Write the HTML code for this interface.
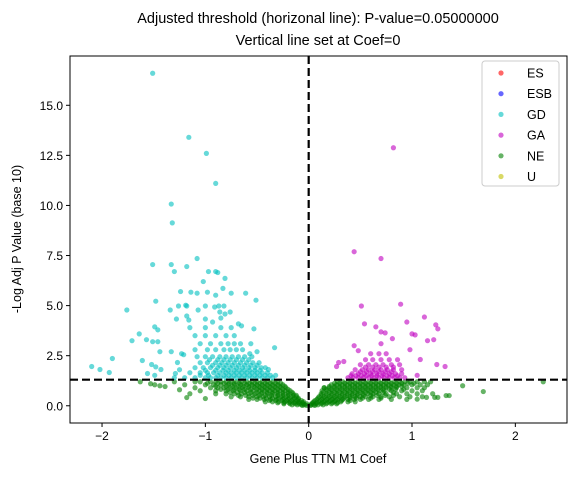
<!DOCTYPE html>
<html><head><meta charset="utf-8"><style>
body{margin:0;background:#fff}
svg text{font-family:"Liberation Sans","DejaVu Sans",sans-serif;fill:#000}
</style></head><body>
<svg id="chart" width="576" height="476" xmlns="http://www.w3.org/2000/svg">
<rect width="576" height="476" fill="#fff"/>
<text x="318" y="23" font-size="14.5" text-anchor="middle">Adjusted threshold (horizonal line): P-value=0.05000000</text>
<text x="318" y="45" font-size="14.5" text-anchor="middle">Vertical line set at Coef=0</text>
<g id="marks"></g>
<g id="axes"></g>
<text x="318" y="463" font-size="12.5" text-anchor="middle">Gene Plus TTN M1 Coef</text>
<text transform="translate(21,239) rotate(-90)" font-size="12.5" text-anchor="middle">-Log Adj P Value (base 10)</text>
</svg>
<script>
const xTicks=[-2,-1,0,1,2];
const xTickLabels=["\u22122","\u22121","0","1","2"];
const yTicks=[0,2.5,5,7.5,10,12.5,15];
const yTickLabels=["0.0","2.5","5.0","7.5","10.0","12.5","15.0"];
const legendLabels=["ES","ESB","GD","GA","NE","U"];
const legendColors=["#ff0000","#0000ff","#00bfbf","#bf00bf","#008000","#bfbf00"];
const thresholdY=1.30103;
const coefX=0;
const neRows=[
[1.2,[-1.3,-1.1,-1.05,-0.95,-0.9,-0.85,-0.8,-0.75,-0.7,-0.65,-0.6,-0.55,-0.5,-0.45,-0.4,-0.35,-0.3,0.28,0.33,0.38,0.43,0.48,0.53,0.58,0.63,0.68,0.73,0.78,0.83,0.88,0.93,0.98,1.05,1.12,1.18]],
[1.12,[-0.98,-0.88,-0.82,-0.77,-0.72,-0.67,-0.62,-0.57,-0.52,-0.47,-0.42,-0.37,-0.32,-0.27,0.25,0.3,0.35,0.4,0.45,0.5,0.55,0.6,0.65,0.7,0.75,0.8,0.85,0.9,0.96,1.02]],
[1.05,[-1.2,-1.0,-0.92,-0.85,-0.78,-0.72,-0.66,-0.6,-0.55,-0.5,-0.45,-0.4,-0.35,-0.3,-0.25,0.22,0.27,0.32,0.37,0.42,0.47,0.52,0.57,0.62,0.67,0.72,0.77,0.82,0.87,0.92,1.0,1.08,1.15]],
[0.97,[-0.9,-0.8,-0.74,-0.68,-0.63,-0.58,-0.53,-0.48,-0.43,-0.38,-0.33,-0.28,-0.23,0.2,0.25,0.3,0.35,0.4,0.45,0.5,0.55,0.6,0.65,0.7,0.75,0.8,0.85,0.9]],
[0.9,[-1.1,-0.95,-0.88,-0.82,-0.76,-0.7,-0.64,-0.58,-0.52,-0.47,-0.42,-0.37,-0.32,-0.27,-0.22,0.15,0.2,0.25,0.3,0.35,0.4,0.45,0.5,0.55,0.6,0.65,0.7,0.75,0.8,0.85,0.95,1.05,1.12]],
[0.82,[-0.85,-0.78,-0.72,-0.67,-0.62,-0.56,-0.5,-0.45,-0.4,-0.35,-0.3,-0.25,-0.2,0.17,0.22,0.27,0.32,0.37,0.42,0.47,0.52,0.57,0.62,0.67,0.72,0.78,0.84,0.92]],
[0.75,[-1.05,-0.9,-0.8,-0.73,-0.66,-0.6,-0.54,-0.48,-0.43,-0.38,-0.33,-0.28,-0.23,-0.18,0.13,0.18,0.23,0.28,0.33,0.38,0.43,0.48,0.53,0.58,0.63,0.68,0.73,0.8,0.9,1.0,1.1]],
[0.67,[-0.76,-0.69,-0.62,-0.56,-0.5,-0.45,-0.4,-0.35,-0.3,-0.25,-0.2,-0.16,0.14,0.2,0.25,0.3,0.35,0.4,0.45,0.5,0.55,0.6,0.65,0.72,0.82]],
[0.6,[-0.9,-0.8,-0.72,-0.65,-0.58,-0.52,-0.46,-0.4,-0.35,-0.3,-0.25,-0.2,-0.15,0.12,0.17,0.22,0.27,0.32,0.37,0.42,0.47,0.52,0.57,0.62,0.68,0.75,0.85,0.95,1.05,1.2]],
[0.52,[-0.68,-0.61,-0.54,-0.48,-0.42,-0.36,-0.3,-0.25,-0.2,-0.15,-0.12,0.12,0.17,0.22,0.27,0.32,0.37,0.42,0.47,0.53,0.6,0.66,0.74,0.82]],
[0.45,[-0.75,-0.66,-0.58,-0.5,-0.44,-0.38,-0.32,-0.27,-0.22,-0.17,-0.12,0.1,0.15,0.2,0.25,0.3,0.35,0.4,0.45,0.5,0.55,0.62,0.7,0.78,0.88,0.98,1.1]],
[0.38,[-0.54,-0.47,-0.41,-0.35,-0.29,-0.24,-0.19,-0.14,-0.1,0.09,0.14,0.19,0.24,0.29,0.34,0.4,0.46,0.52,0.6,0.7]],
[0.32,[-0.58,-0.5,-0.43,-0.37,-0.31,-0.25,-0.2,-0.15,-0.1,0.08,0.13,0.18,0.23,0.28,0.33,0.38,0.44,0.5,0.58,0.68,0.8,0.95]],
[0.26,[-0.38,-0.32,-0.26,-0.21,-0.16,-0.11,-0.07,0.06,0.11,0.16,0.21,0.26,0.32,0.4]],
[0.2,[-0.42,-0.35,-0.29,-0.23,-0.18,-0.13,-0.09,-0.05,0.05,0.1,0.15,0.2,0.25,0.31,0.38,0.45]],
[0.15,[-0.3,-0.24,-0.19,-0.14,-0.1,-0.06,0.04,0.08,0.13,0.18,0.23,0.28]],
[0.1,[-0.24,-0.18,-0.13,-0.09,-0.05,-0.02,0.03,0.07,0.12,0.17,0.22,0.27]],
[0.05,[-0.16,-0.11,-0.07,-0.04,0.02,0.05,0.09,0.14]],
[0.02,[-0.06,-0.02,0.02,0.06]]];
const neOutliers=[[2.27,1.2],[1.69,0.71],[1.49,1.0],[1.36,0.51],[1.33,0.51],[1.25,0.42],[1.22,0.42],[1.14,0.42],[1.05,0.33],[0.15,0.9],[-1.63,1.2],[-1.53,1.1],[-1.49,1.05],[-1.44,1.0],[-1.39,0.96],[-1.18,0.41],[-1.0,0.36],[-1.25,0.8],[-1.15,0.6]];
const gdRows=[
[1.4,[-1.2,-1.1,-1.0,-0.95,-0.9,-0.85,-0.8,-0.75,-0.7,-0.65,-0.6,-0.55,-0.5,-0.45,-0.4,-0.35]],
[1.52,[-1.05,-0.97,-0.88,-0.82,-0.77,-0.72,-0.67,-0.62,-0.57,-0.52,-0.47,-0.42,-0.37]],
[1.65,[-1.15,-1.05,-0.98,-0.92,-0.86,-0.8,-0.75,-0.7,-0.65,-0.6,-0.55,-0.5,-0.45,-0.4]],
[1.77,[-1.0,-0.9,-0.83,-0.78,-0.72,-0.67,-0.62,-0.57,-0.52,-0.47]],
[1.9,[-1.1,-1.02,-0.95,-0.88,-0.82,-0.76,-0.7,-0.64,-0.58,-0.52,-0.46,-0.42]],
[2.02,[-0.93,-0.86,-0.8,-0.74,-0.68,-0.62,-0.56,-0.5]],
[2.15,[-1.05,-0.98,-0.9,-0.84,-0.78,-0.72,-0.66,-0.6,-0.54,-0.48]],
[2.3,[-0.96,-0.88,-0.82,-0.76,-0.7,-0.64,-0.58]],
[2.45,[-1.08,-1.0,-0.93,-0.86,-0.8,-0.74,-0.68,-0.62,-0.55]],
[2.8,[-1.1,-0.98,-0.9,-0.82,-0.76,-0.7,-0.64]],
[3.1,[-1.05,-0.95,-0.85,-0.78,-0.72,-0.66]],
[3.5,[-1.1,-1.0,-0.9,-0.8,-0.72]],
[3.9,[-1.15,-1.0,-0.85,-0.75]]];
const gdOutliers=[[-1.51,16.6],[-1.16,13.4],[-0.99,12.6],[-0.9,11.1],[-1.33,10.07],[-1.32,9.13],[-1.08,7.35],[-1.51,7.05],[-1.33,7.05],[-1.3,6.7],[-1.18,6.95],[-0.97,6.7],[-0.9,6.7],[-0.88,6.65],[-0.81,6.36],[-1.02,6.2],[-1.24,5.7],[-1.14,5.67],[-1.08,5.62],[-0.98,5.67],[-0.9,5.52],[-0.83,5.86],[-0.75,5.62],[-0.61,5.62],[-0.51,5.27],[-1.48,5.22],[-1.76,4.78],[-1.34,4.78],[-1.26,4.98],[-1.19,5.02],[-1.18,4.98],[-1.07,4.78],[-1.0,4.98],[-0.91,4.93],[-0.87,4.98],[-0.82,4.98],[-0.76,4.68],[-0.86,4.68],[-1.28,4.33],[-1.18,4.48],[-1.16,4.28],[-1.0,4.33],[-0.93,4.18],[-0.85,4.38],[-0.81,4.58],[-1.49,3.94],[-1.46,3.79],[-0.68,4.09],[-0.65,3.99],[-0.53,3.84],[-1.64,3.59],[-1.51,3.2],[-1.46,3.2],[-1.57,3.3],[-1.71,3.25],[-1.61,2.26],[-1.44,2.7],[-1.33,2.7],[-1.23,2.6],[-1.21,2.55],[-1.27,2.16],[-1.9,2.36],[-2.1,1.96],[-2.02,1.81],[-1.93,1.66],[-1.56,1.61],[-1.52,2.06],[-1.48,1.94],[-1.43,1.81],[-1.49,1.52],[-1.29,1.61],[-0.33,2.9],[-0.56,3.1],[-0.57,2.6],[-0.5,2.7],[-0.39,1.81],[-0.32,1.52],[-1.3,1.4],[-1.25,1.8]];
const gaRows=[
[1.4,[0.38,0.43,0.48,0.53,0.58,0.63,0.68,0.73,0.78,0.83,0.88,0.93]],
[1.5,[0.41,0.46,0.51,0.56,0.61,0.66,0.71,0.76,0.81,0.86]],
[1.6,[0.42,0.48,0.54,0.6,0.66,0.72,0.78,0.84,0.9]],
[1.7,[0.5,0.56,0.62,0.68,0.74,0.8]],
[1.8,[0.45,0.52,0.58,0.64,0.7,0.76,0.82,0.9]],
[1.93,[0.55,0.62,0.68,0.75,0.82]],
[2.05,[0.5,0.58,0.65,0.72,0.8,0.88]],
[2.3,[0.55,0.62,0.7,0.78,0.86]],
[2.6,[0.6,0.68,0.75]]];
const gaOutliers=[[0.82,12.88],[0.44,7.69],[0.7,7.35],[0.51,4.98],[0.89,5.07],[0.54,4.09],[0.65,3.94],[1.12,4.43],[0.95,4.18],[1.23,4.04],[1.25,3.84],[0.7,3.69],[0.74,3.64],[1.0,3.59],[1.03,3.54],[1.15,3.25],[1.21,3.3],[0.81,3.35],[0.7,3.1],[0.44,3.0],[0.48,2.75],[0.98,2.8],[1.24,2.06],[1.32,1.96],[1.08,2.31],[0.34,2.21],[0.27,1.96],[0.29,2.16],[1.05,1.52]];

const L=70,R=567,T=56,B=423;
const xMin=-2.31,xMax=2.5,yMin=-0.86,yMax=17.46;
const sx=v=>L+(v-xMin)/(xMax-xMin)*(R-L);
const sy=v=>B-(v-yMin)/(yMax-yMin)*(B-T);
const NS="http://www.w3.org/2000/svg";
const marks=document.getElementById('marks');
const axes=document.getElementById('axes');
function mk(tag,parent,attrs){const e=document.createElementNS(NS,tag);for(const k in attrs)e.setAttribute(k,attrs[k]);parent.appendChild(e);return e;}
function dot(x,y,color,name){
  const c=mk('circle',marks,{cx:sx(x),cy:sy(y),r:2.6,fill:color,'fill-opacity':0.6});
  
  
}
neRows.forEach(r=>r[1].forEach(x=>dot(x,r[0],'#008000','ne-point')));
neOutliers.forEach(p=>dot(p[0],p[1],'#008000','ne-point'));
gdRows.forEach(r=>r[1].forEach(x=>dot(x,r[0],'#00bfbf','gd-point')));
gdOutliers.forEach(p=>dot(p[0],p[1],'#00bfbf','gd-point'));
gaRows.forEach(r=>r[1].forEach(x=>dot(x,r[0],'#bf00bf','ga-point')));
gaOutliers.forEach(p=>dot(p[0],p[1],'#bf00bf','ga-point'));

const hl=mk('line',axes,{x1:L,x2:R,y1:sy(thresholdY),y2:sy(thresholdY),stroke:'#000','stroke-width':2.2,'stroke-dasharray':'8,4'});


const vl=mk('line',axes,{x1:sx(coefX),x2:sx(coefX),y1:T,y2:B,stroke:'#000','stroke-width':2.2,'stroke-dasharray':'8,4'});


const fr=mk('rect',axes,{x:L,y:T,width:R-L,height:B-T,fill:'none',stroke:'#000','stroke-width':1});


xTicks.forEach((v,i)=>{
  mk('line',axes,{x1:sx(v),x2:sx(v),y1:B,y2:B+4,stroke:'#000'});
  const t=mk('text',axes,{x:sx(v),y:B+17,'font-size':12,'text-anchor':'middle'});
  t.textContent=xTickLabels[i];
  
  
});
yTicks.forEach((v,i)=>{
  mk('line',axes,{x1:L-4,x2:L,y1:sy(v),y2:sy(v),stroke:'#000'});
  const t=mk('text',axes,{x:L-7,y:sy(v)+4.5,'font-size':12,'text-anchor':'end'});
  t.textContent=yTickLabels[i];
  
  
});
const lg=mk('g',axes,{});


mk('rect',lg,{x:482,y:61,width:77,height:125,rx:3,fill:'#fff','fill-opacity':0.8,stroke:'#ccc'});
legendLabels.forEach((lab,i)=>{
  const y=73+i*20.7;
  const g=mk('g',lg,{});
  
  
  mk('circle',g,{cx:501,cy:y,r:2.6,fill:legendColors[i],'fill-opacity':0.6});
  const t=mk('text',g,{x:527,y:y+4.5,'font-size':12.5});
  t.textContent=lab;
});
</script>
</body></html>
